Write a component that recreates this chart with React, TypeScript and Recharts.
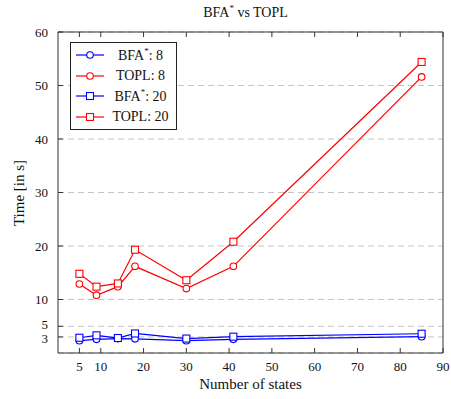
import React from 'react';
import { LineChart, Line, XAxis, YAxis, CartesianGrid } from 'recharts';

const states = [5, 9, 14, 18, 30, 41, 85];
const bfa8 = [2.3, 2.55, 2.7, 2.65, 2.3, 2.55, 3.05];
const topl8 = [12.9, 10.8, 12.4, 16.2, 12.05, 16.2, 51.6];
const bfa20 = [2.85, 3.3, 2.8, 3.65, 2.7, 3.05, 3.6];
const topl20 = [14.8, 12.4, 13.0, 19.3, 13.6, 20.8, 54.4];

const xTicks = [5, 10, 20, 30, 40, 50, 60, 70, 80, 90];
const yTicks = [3, 5, 10, 20, 30, 40, 50, 60];

const data = states.map((s, i) => ({
  states: s,
  bfa8: bfa8[i],
  topl8: topl8[i],
  bfa20: bfa20[i],
  topl20: topl20[i],
}));

const FONT = '"Liberation Serif", "DejaVu Serif", serif';
const AXIS = '#333';

const CircleDot = (props: any) => {
  const { cx, cy, stroke } = props;
  if (cx == null || cy == null) return <g />;
  return <circle cx={cx} cy={cy} r={3.3} fill="#fff" stroke={stroke} strokeWidth={1.1} />;
};

const SquareDot = (props: any) => {
  const { cx, cy, stroke } = props;
  if (cx == null || cy == null) return <g />;
  return <rect x={cx - 3.5} y={cy - 3.5} width={7} height={7} fill="#fff" stroke={stroke} strokeWidth={1.1} />;
};

// the 3 and 5 labels sit very close, nudge them apart a bit
const YTick = (props: any) => {
  const { x, y, payload } = props;
  const v = payload.value;
  const shift = v === 5 ? -1.5 : v === 3 ? 1.5 : 0;
  return (
    <text x={x} y={y + shift} dy="0.35em" textAnchor="end" fill="#111" fontSize={13} fontFamily={FONT}>
      {v}
    </text>
  );
};

const legendItems = [
  { label: 'BFA', sup: '*', rest: ': 8', color: '#0000ff', mark: 'o' },
  { label: 'TOPL', sup: '', rest: ': 8', color: '#ff0000', mark: 'o' },
  { label: 'BFA', sup: '*', rest: ': 20', color: '#0000ff', mark: 's' },
  { label: 'TOPL', sup: '', rest: ': 20', color: '#ff0000', mark: 's' },
];

const LegendBox = () => (
  <div
    style={{
      position: 'absolute',
      left: 70,
      top: 42,
      border: '1px solid #222',
      background: '#fff',
      width: 105,
      padding: '2px 0',
      fontFamily: FONT,
      fontSize: 14,
      color: '#111',
    }}
  >
    {legendItems.map((it, i) => (
      <div key={i} style={{ display: 'flex', alignItems: 'center', height: 20.5 }}>
        <svg width={34} height={12} style={{ marginLeft: 4 }}>
          <line x1={1} y1={6} x2={29} y2={6} stroke={it.color} strokeWidth={1.2} />
          {it.mark === 'o' ? (
            <circle cx={15} cy={6} r={3.3} fill="#fff" stroke={it.color} strokeWidth={1.1} />
          ) : (
            <rect x={11.5} y={2.5} width={7} height={7} fill="#fff" stroke={it.color} strokeWidth={1.1} />
          )}
        </svg>
        <div style={{ flex: 1, textAlign: 'center', paddingRight: 4 }}>
          {it.label}
          {it.sup && <sup style={{ fontSize: 9 }}>{it.sup}</sup>}
          {it.rest}
        </div>
      </div>
    ))}
  </div>
);

const noTick = () => <g />;

export default function App() {
  return (
    <div style={{ position: 'absolute', left: 0, top: 0, width: 451, height: 399, background: '#fff' }}>
      <LineChart
        width={451}
        height={399}
        data={data}
        margin={{ top: 31, right: 7, bottom: 16, left: 18 }}
        style={{ fontFamily: FONT }}
      >
        <CartesianGrid
          vertical={false}
          horizontal
          stroke="#c4c4c4"
          strokeDasharray="6 4"
          yAxisId="left"
          xAxisId="bottom"
        />
        <XAxis
          xAxisId="bottom"
          dataKey="states"
          type="number"
          domain={[0, 90]}
          ticks={xTicks}
          interval={0}
          height={30}
          tickSize={-5}
          tickMargin={14}
          stroke={AXIS}
          tick={{ fill: '#111', fontSize: 13, fontFamily: FONT }}
        />
        <XAxis
          xAxisId="top"
          orientation="top"
          dataKey="states"
          type="number"
          domain={[0, 90]}
          ticks={xTicks}
          interval={0}
          height={1}
          tickSize={-5}
          stroke={AXIS}
          tick={noTick}
        />
        <YAxis
          yAxisId="left"
          type="number"
          domain={[0, 60]}
          ticks={yTicks}
          interval={0}
          width={40}
          tickSize={-5}
          tickMargin={15}
          stroke={AXIS}
          tick={<YTick />}
        />
        <YAxis
          yAxisId="right"
          orientation="right"
          type="number"
          domain={[0, 60]}
          ticks={yTicks}
          interval={0}
          width={1}
          tickSize={-5}
          stroke={AXIS}
          tick={noTick}
        />
        <Line
          xAxisId="bottom"
          yAxisId="left"
          dataKey="bfa8"
          stroke="#0000ff"
          strokeWidth={1.2}
          dot={<CircleDot />}
          isAnimationActive={false}
        />
        <Line
          xAxisId="bottom"
          yAxisId="left"
          dataKey="topl8"
          stroke="#ff0000"
          strokeWidth={1.2}
          dot={<CircleDot />}
          isAnimationActive={false}
        />
        <Line
          xAxisId="bottom"
          yAxisId="left"
          dataKey="bfa20"
          stroke="#0000ff"
          strokeWidth={1.2}
          dot={<SquareDot />}
          isAnimationActive={false}
        />
        <Line
          xAxisId="bottom"
          yAxisId="left"
          dataKey="topl20"
          stroke="#ff0000"
          strokeWidth={1.2}
          dot={<SquareDot />}
          isAnimationActive={false}
        />
      </LineChart>
      <LegendBox />
      <div
        style={{
          position: 'absolute',
          left: 0,
          width: 491,
          top: 3,
          textAlign: 'center',
          fontFamily: FONT,
          fontSize: 14,
          color: '#111',
        }}
      >
        BFA<sup style={{ fontSize: 9 }}>*</sup> vs TOPL
      </div>
      <div
        style={{
          position: 'absolute',
          left: 58,
          width: 385,
          top: 376,
          textAlign: 'center',
          fontFamily: FONT,
          fontSize: 15,
          color: '#111',
        }}
      >
        Number of states
      </div>
      <div
        style={{
          position: 'absolute',
          left: 19,
          top: 193,
          transform: 'translate(-50%, -50%) rotate(-90deg)',
          whiteSpace: 'nowrap',
          fontFamily: FONT,
          fontSize: 15,
          color: '#111',
        }}
      >
        Time [in s]
      </div>
    </div>
  );
}
